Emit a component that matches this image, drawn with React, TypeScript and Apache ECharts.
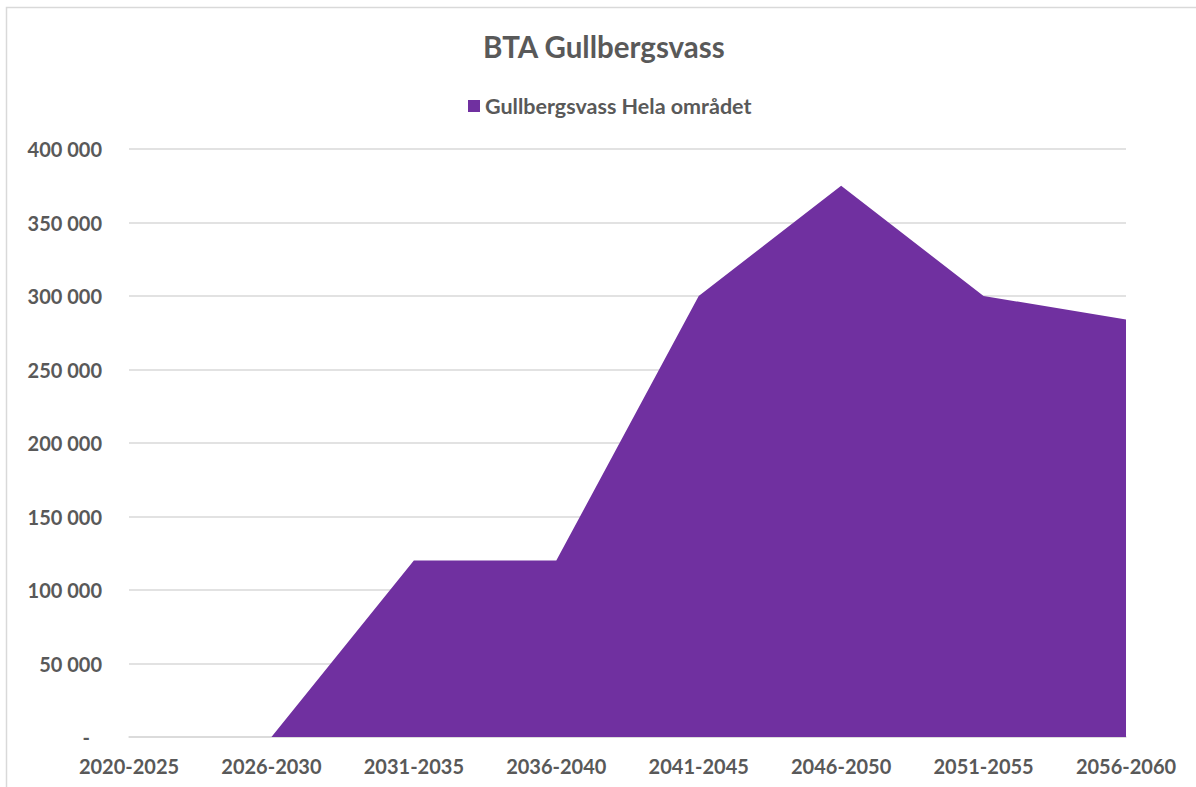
import React, { useEffect, useRef } from "react";
import * as echarts from "echarts";

const categories = ["2020-2025", "2026-2030", "2031-2035", "2036-2040", "2041-2045", "2046-2050", "2051-2055", "2056-2060"];
const values = [0, 0, 120000, 120000, 300000, 375000, 300000, 284000];
const seriesName = "Gullbergsvass Hela området";
const titleText = "BTA Gullbergsvass";

const FONT = "Lato, 'Open Sans', sans-serif";
const TXT = "#595959";

export default function App() {
  const ref = useRef<HTMLDivElement>(null);
  useEffect(() => {
    const chart = echarts.init(ref.current!, null, { renderer: "svg" });
    chart.setOption({
      animation: false,
      backgroundColor: "#ffffff",
      title: {
        text: titleText,
        left: 478,
        top: 26,
        textStyle: { fontFamily: FONT, fontSize: 29.5, fontWeight: "bold", color: TXT },
      },
      legend: {
        top: 90,
        left: 463,
        icon: "rect",
        itemWidth: 12,
        itemHeight: 12,
        itemGap: 6,
        textStyle: { fontFamily: FONT, fontSize: 21.5, fontWeight: "bold", color: TXT },
        data: [seriesName],
      },
      graphic: [
        {
          type: "rect",
          shape: { x: 6.5, y: 7.5, width: 1200, height: 800 },
          style: { fill: "none", stroke: "#d9d9d9", lineWidth: 1.5 },
          silent: true,
        },
      ],
      grid: { left: 129, right: 70, top: 149, bottom: 50, containLabel: false },
      xAxis: {
        type: "category",
        data: categories,
        boundaryGap: false,
        axisLine: { lineStyle: { color: "#d9d9d9", width: 1.5 } },
        axisTick: { show: false },
        axisLabel: { fontFamily: FONT, fontSize: 20, fontWeight: "bold", color: TXT, margin: 19 },
      },
      yAxis: {
        type: "value",
        min: 0,
        max: 400000,
        interval: 50000,
        axisLine: { show: false },
        axisTick: { show: false },
        splitLine: { lineStyle: { color: "#d9d9d9", width: 1.5 } },
        axisLabel: {
          fontFamily: FONT,
          fontSize: 20,
          fontWeight: "bold",
          color: TXT,
          margin: 27,
          formatter: (v: number) => (v === 0 ? "{z|-}" : String(v).replace(/\B(?=(\d{3})+(?!\d))/g, " ")),
          rich: { z: { fontFamily: FONT, fontSize: 20, fontWeight: "bold", color: TXT, padding: [0, 12, 0, 0] } },
        },
      },
      series: [
        {
          name: seriesName,
          type: "line",
          data: values,
          showSymbol: false,
          symbol: "none",
          itemStyle: { color: "#7030A0" },
          lineStyle: { width: 0, color: "#7030A0" },
          areaStyle: { color: "#7030A0", opacity: 1 },
        },
      ],
    });
    return () => chart.dispose();
  }, []);
  return <div ref={ref} style={{ position: "absolute", left: 0, top: 0, width: 1196, height: 787 }} />;
}
